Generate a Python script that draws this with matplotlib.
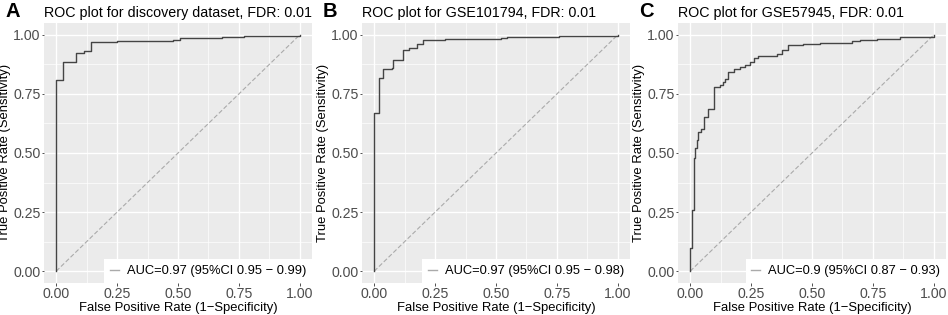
import matplotlib
matplotlib.use('Agg')
import matplotlib.pyplot as plt
from matplotlib.lines import Line2D
from matplotlib.ticker import MultipleLocator

plt.rcParams['font.family'] = ['Liberation Sans', 'DejaVu Sans']

# ROC corner points (fpr, tpr)
fpr_a = [0, 0, 0.026, 0.083, 0.115, 0.142, 0.25, 0.48, 0.51, 0.68, 0.77, 1.0]
tpr_a = [0, 0.807, 0.884, 0.923, 0.933, 0.968, 0.975, 0.98, 0.985, 0.99, 0.995, 1.0]

fpr_b = [0, 0, 0.020, 0.038, 0.075, 0.079, 0.12, 0.143, 0.177, 0.2, 0.29, 0.52, 0.545, 0.76, 1.0]
tpr_b = [0, 0.668, 0.817, 0.856, 0.86, 0.893, 0.9375, 0.944, 0.9625, 0.979, 0.982, 0.985, 0.99, 0.995, 1.0]

fpr_c = [0, 0, 0.007, 0.016, 0.018, 0.027, 0.034, 0.045, 0.055, 0.072, 0.096, 0.123, 0.134,
         0.143, 0.154, 0.178, 0.205, 0.225, 0.246, 0.26, 0.28, 0.328, 0.355, 0.376, 0.403,
         0.464, 0.533, 0.663, 0.697, 0.765, 0.86, 1.0]
tpr_c = [0, 0.098, 0.26, 0.478, 0.52, 0.555, 0.587, 0.60, 0.653, 0.688, 0.78, 0.787, 0.80,
         0.815, 0.843, 0.854, 0.864, 0.871, 0.885, 0.902, 0.909, 0.912, 0.92, 0.937, 0.955,
         0.962, 0.966, 0.973, 0.979, 0.983, 0.99, 1.0]

titles = ['ROC plot for discovery dataset, FDR: 0.01',
          'ROC plot for GSE101794, FDR: 0.01',
          'ROC plot for GSE57945, FDR: 0.01']
legend_labels = ['AUC=0.97 (95%CI 0.95 \u2212 0.99)',
                 'AUC=0.97 (95%CI 0.95 \u2212 0.98)',
                 'AUC=0.9 (95%CI 0.87 \u2212 0.93)']
panel_letters = ['A', 'B', 'C']
curves = [(fpr_a, tpr_a), (fpr_b, tpr_b), (fpr_c, tpr_c)]

W, H = 948, 315
fig = plt.figure(figsize=(W / 100, H / 100), dpi=100)

lefts = [44, 362, 678]
ax_w, ax_top, ax_bot = 268, 23, 283
ticks = [0, 0.25, 0.5, 0.75, 1.0]
ticklabels = ['0.00', '0.25', '0.50', '0.75', '1.00']

for i in range(3):
    ax = fig.add_axes([lefts[i] / W, (H - ax_bot) / H, ax_w / W, (ax_bot - ax_top) / H])
    ax.set_facecolor('#EBEBEB')
    for s in ax.spines.values():
        s.set_visible(False)
    ax.set_xlim(-0.05, 1.05)
    ax.set_ylim(-0.05, 1.05)
    ax.set_xticks(ticks)
    ax.set_yticks(ticks)
    ax.set_xticklabels(ticklabels)
    ax.set_yticklabels(ticklabels)
    ax.xaxis.set_minor_locator(MultipleLocator(0.125))
    ax.yaxis.set_minor_locator(MultipleLocator(0.125))
    ax.grid(which='major', color='white', lw=1.0)
    ax.grid(which='minor', color='white', lw=0.5)
    ax.set_axisbelow(True)
    ax.tick_params(which='major', length=1.8, width=0.6, color='#333333',
                   labelsize=10.2, labelcolor='#4D4D4D', pad=0.8)
    ax.tick_params(which='minor', length=0)

    ax.plot([0, 1], [0, 1], color='#AAAAAA', lw=0.8, ls=(0, (4, 2)))
    fx, ty = curves[i]
    ax.plot(fx, ty, drawstyle='steps-post', color='#444444', lw=1.0)

    ax.set_xlabel('False Positive Rate (1\u2212Specificity)', fontsize=9.4, labelpad=1)
    ax.set_ylabel('True Positive Rate (Sensitivity)', fontsize=9.4, labelpad=1.5)
    ax.set_title(titles[i], loc='left', fontsize=10.3, pad=4)

    handle = Line2D([], [], color='#AAAAAA', lw=1.0)
    leg = ax.legend([handle], [legend_labels[i]], loc='lower right', fontsize=9.3,
                    frameon=True, fancybox=False, framealpha=1, edgecolor='white',
                    borderaxespad=0, handlelength=0.7, handletextpad=0.6,
                    borderpad=0.45)
    leg.get_frame().set_linewidth(0)

    fig.text((lefts[i] - 39) / W, 1 - 2 / H, panel_letters[i], fontsize=14.5,
             fontweight='bold', va='top', ha='left')

fig.savefig('out.png', dpi=100)
